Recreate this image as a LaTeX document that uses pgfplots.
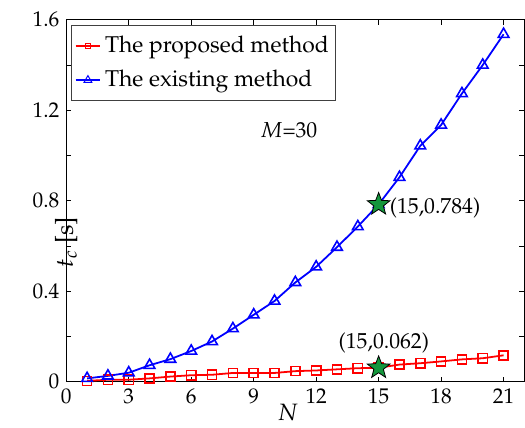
\documentclass[border=0pt]{standalone}
\usepackage[T1]{fontenc}
\usepackage{mathpazo}
\usepackage{pgfplots}
\pgfplotsset{compat=1.18}
\definecolor{stargreen}{RGB}{20,150,60}
\pgfdeclareplotmark{fstar}{%
  \pgfpathmoveto{\pgfpointpolar{90}{\pgfplotmarksize}}%
  \pgfpathlineto{\pgfpointpolar{126}{0.42\pgfplotmarksize}}%
  \pgfpathlineto{\pgfpointpolar{162}{\pgfplotmarksize}}%
  \pgfpathlineto{\pgfpointpolar{198}{0.42\pgfplotmarksize}}%
  \pgfpathlineto{\pgfpointpolar{234}{\pgfplotmarksize}}%
  \pgfpathlineto{\pgfpointpolar{270}{0.42\pgfplotmarksize}}%
  \pgfpathlineto{\pgfpointpolar{306}{\pgfplotmarksize}}%
  \pgfpathlineto{\pgfpointpolar{342}{0.42\pgfplotmarksize}}%
  \pgfpathlineto{\pgfpointpolar{18}{\pgfplotmarksize}}%
  \pgfpathlineto{\pgfpointpolar{54}{0.42\pgfplotmarksize}}%
  \pgfpathclose
  \pgfusepathqfillstroke}
\begin{document}
\begin{tikzpicture}
\begin{axis}[
  scale only axis,
  width=231.6bp, height=183bp,
  xmin=0, xmax=22, ymin=0, ymax=1.6,
  xtick={0,3,...,21},
  ytick={0,0.4,0.8,1.2,1.6},
  yticklabels={0,0.4,0.8,1.2,1.6},
  minor ytick={0.2,0.6,1.0,1.4},
  tick align=inside,
  xtick pos=both, ytick pos=both,
  major tick length=2.5bp, minor tick length=2.5bp,
  every tick/.style={black, line width=0.4bp},
  axis line style={black, line width=0.6bp},
  ticklabel style={font=\fontsize{10.8}{12}\selectfont},
  clip=false,
  xlabel={$N$},
  xlabel style={at={(axis description cs:0.4837,0)}, anchor=center, yshift=-15.5bp, font=\fontsize{12}{14}\selectfont},
  ylabel={$t_c$\ [s]},
  ylabel style={at={(axis description cs:0,0.5)}, anchor=center, xshift=-21bp, font=\fontsize{12.5}{14}\selectfont},
  legend style={at={(axis description cs:0,1)}, anchor=north west, xshift=2.5bp, yshift=-2.5bp,
    font=\fontsize{11.6}{14}\selectfont, draw=black!75, line width=0.5bp, inner xsep=1.5bp, inner ysep=3.5bp, row sep=3.5bp},
  legend cell align=left,
  legend image code/.code={\draw[#1, mark repeat=2, mark phase=2, mark options={solid, line width=0.5bp}] plot coordinates {(0bp,0bp) (6.25bp,0bp) (12.5bp,0bp)};},
]
\addplot[color=red, line width=0.9bp, mark=square, mark size=2.3bp, mark options={solid, line width=0.8bp}, legend image post style={mark size=1.4bp}]
coordinates {(1,0.004)(2,0.009)(3,0.009)(4,0.015)(5,0.023)(6,0.029)(7,0.031)(8,0.039)(9,0.039)(10,0.039)(11,0.047)(12,0.050)(13,0.055)(14,0.060)(15,0.062)(16,0.076)(17,0.082)(18,0.090)(19,0.099)(20,0.104)(21,0.117)};
\addlegendentry{The proposed method}
\addplot[color=blue, line width=0.9bp, mark=triangle, mark size=3.1bp, mark options={solid, line width=0.8bp}, legend image post style={mark size=2.3bp}]
coordinates {(1,0.015)(2,0.026)(3,0.040)(4,0.073)(5,0.100)(6,0.136)(7,0.178)(8,0.235)(9,0.296)(10,0.357)(11,0.439)(12,0.508)(13,0.595)(14,0.686)(15,0.784)(16,0.904)(17,1.043)(18,1.135)(19,1.274)(20,1.400)(21,1.536)};
\addlegendentry{The existing method}
\addplot[only marks, mark=fstar, mark size=6bp, mark options={fill=stargreen, draw=black, line width=0.4bp}, forget plot]
coordinates {(15,0.784)(15,0.062)};
\node[anchor=west, font=\fontsize{11}{12}\selectfont, inner sep=0pt] at (axis cs:15,0.77) [xshift=5.5bp] {(15,0.784)};
\node[anchor=center, font=\fontsize{11}{12}\selectfont, inner sep=0pt] at (axis cs:15.25,0.17) {(15,0.062)};
\node[anchor=center, font=\fontsize{11}{12}\selectfont, inner sep=0pt] at (axis cs:10.69,1.111) {$M$=30};
\end{axis}
\path[use as bounding box] ([xshift=-33.5bp,yshift=-21bp]current axis.south west) rectangle ([xshift=229bp,yshift=193bp]current axis.south west);
\end{tikzpicture}
\end{document}
